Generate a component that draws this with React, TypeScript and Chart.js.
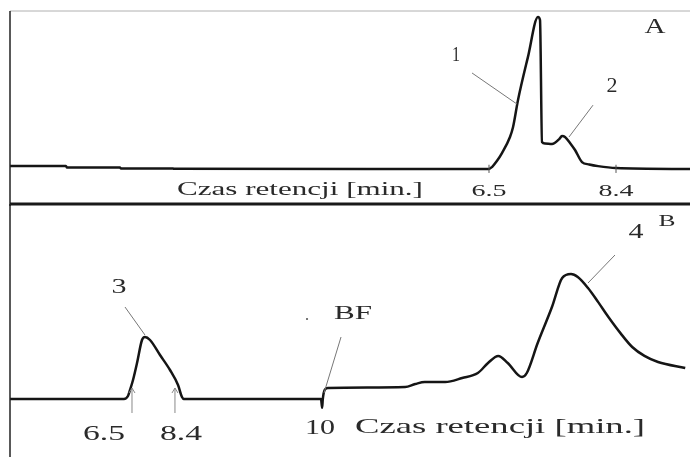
import React, { useEffect, useRef } from "react";
import { Chart, registerables } from "chart.js";

Chart.register(...registerables);

// ---------- Panel A (retention time, min; signal, % of peak 1) ----------
const aTime = [-0.666, 0.171, 0.186, 0.979, 0.994, 1.772, 1.787, 6.5, 6.545, 6.62, 6.694, 6.814, 6.86, 6.934, 7.083, 7.233, 7.263, 7.293, 7.338, 7.443, 7.55, 7.592, 7.637, 7.72, 7.787, 7.891, 8.0, 8.131, 8.4, 9.507];
const aSignal = [1.8, 1.8, 0.8, 0.8, 0.2, 0.2, -0.1, -0.2, 1.1, 5.2, 10.3, 20.9, 27.5, 45.3, 73.7, 100, 98, 17.6, 16.6, 16.3, 19.5, 21.5, 20.9, 16.5, 12.3, 4.4, 2.8, 1.7, 0.4, -0.2];
const aTicks = [6.5, 8.4];
const aTickLabels = ["6.5", "8.4"];
const aPeakLabels = ["1", "2"];
const aPeakLabelPos = [[6.006, 74.3], [8.34, 53.9]];
const aLeaderFrom = [[6.246, 63.1], [8.056, 41.9]];
const aLeaderTo = [[6.919, 42.6], [7.697, 20.9]];
const aPanelLabel = "A";
const axisTitle = "Czas retencji [min.]";

// ---------- Panel B (relative scan position; signal, % of peak 4) ----------
const bPos = [0, 16.76, 17.35, 17.65, 18.09, 18.68, 19.41, 19.85, 20.59, 22.06, 23.53, 24.71, 25.29, 25.59, 45.74, 45.9, 46.0, 46.3, 46.76, 58.1, 59.6, 61.0, 64.0, 66.5, 68.8, 70.3, 71.8, 73.2, 75.3, 76.0, 77.6, 79.7, 81.2, 82.5, 83.5, 85.0, 86.5, 88.0, 89.8, 91.5, 93.3, 95.3, 99.3];
const bSignal = [0, 0, 2.4, 7.2, 15.2, 28.8, 47.2, 49.6, 47.2, 35.2, 23.2, 11.2, 1.6, 0, 0, -7, 0, 7.5, 8.8, 9.6, 12, 13.6, 13.6, 16.8, 20.8, 28.8, 34.4, 28.8, 17.6, 20.8, 44.8, 73.6, 96.8, 100, 97.6, 88.8, 77.5, 65.6, 52.5, 41.6, 34.5, 29.6, 24.8];
const bArrowPos = [17.94, 24.26];
const bTickLabels = ["6.5", "8.4", "10"];
const bTickLabelPos = [[13.82, -28], [25.15, -28], [45.59, -23.2]];
const bPeakLabels = ["3", "4", "BF"];
const bPeakLabelPos = [[16.03, 88.8], [92.06, 132.8], [50.44, 68]];
const bLeaderFrom = [[16.91, 73.6], [88.97, 115.2], [48.68, 49.6]];
const bLeaderTo = [[19.85, 51.2], [85.0, 92.8], [46.18, 4.8]];
const bPanelLabel = "B";

const FONT = '"Liberation Serif", "DejaVu Serif", "Times New Roman", serif';
const TEXT = "#2a2a2a";

function drawText(ctx: CanvasRenderingContext2D, text: string, x: number, y: number, size: number, width: number) {
  ctx.save();
  ctx.font = `${size}px ${FONT}`;
  const w = ctx.measureText(text).width || 1;
  ctx.translate(x, y);
  ctx.scale(width / w, 1);
  ctx.textAlign = "center";
  ctx.textBaseline = "middle";
  ctx.fillStyle = TEXT;
  ctx.fillText(text, 0, 0);
  ctx.restore();
}

function line(ctx: CanvasRenderingContext2D, x1: number, y1: number, x2: number, y2: number, color: string, w: number) {
  ctx.save();
  ctx.strokeStyle = color;
  ctx.lineWidth = w;
  ctx.beginPath();
  ctx.moveTo(x1, y1);
  ctx.lineTo(x2, y2);
  ctx.stroke();
  ctx.restore();
}

const panelAPlugin = {
  id: "panelA",
  afterDraw(chart: any) {
    const { ctx, chartArea: ca, scales } = chart;
    const xs = scales.x, ys = scales.y;
    const px = (v: number) => xs.getPixelForValue(v);
    const py = (v: number) => ys.getPixelForValue(v);
    line(ctx, ca.left, ca.top, ca.right, ca.top, "#b0b0b0", 1);
    line(ctx, ca.left, ca.top, ca.left, ca.bottom + 2, "#222", 1.5);
    line(ctx, ca.left, ca.bottom, ca.right, ca.bottom, "#1a1a1a", 3);
    aTicks.forEach((t, i) => {
      line(ctx, px(t), py(2.6), px(t), py(-2.8), "#555", 1);
      drawText(ctx, aTickLabels[i], px(t), py(-14.9), 16, 35);
    });
    drawText(ctx, axisTitle, px(3.672), py(-14.3), 19, 246);
    const labelW = [8, 11];
    aPeakLabels.forEach((s, i) => {
      line(ctx, px(aLeaderFrom[i][0]), py(aLeaderFrom[i][1]), px(aLeaderTo[i][0]), py(aLeaderTo[i][1]), "#777", 1);
      drawText(ctx, s, px(aPeakLabelPos[i][0]), py(aPeakLabelPos[i][1]), 20, labelW[i]);
    });
    drawText(ctx, aPanelLabel, px(8.984), py(93), 20, 21);
  },
};

const panelBPlugin = {
  id: "panelB",
  afterDraw(chart: any) {
    const { ctx, chartArea: ca, scales } = chart;
    const xs = scales.x, ys = scales.y;
    const px = (v: number) => xs.getPixelForValue(v);
    const py = (v: number) => ys.getPixelForValue(v);
    line(ctx, ca.left, ca.top, ca.left, ca.bottom, "#222", 1.5);
    bArrowPos.forEach((u) => {
      const x = px(u);
      const y0 = py(-11.2), y1 = py(8.8);
      line(ctx, x, y0, x, y1, "#888", 1);
      line(ctx, x - 3, y1 + 5, x, y1, "#888", 1);
      line(ctx, x + 3, y1 + 5, x, y1, "#888", 1);
    });
    const tickW = [42, 42, 30];
    const tickS = [22, 22, 21];
    bTickLabels.forEach((s, i) => {
      drawText(ctx, s, px(bTickLabelPos[i][0]), py(bTickLabelPos[i][1]), tickS[i], tickW[i]);
    });
    drawText(ctx, axisTitle, px(72.06), py(-22.4), 22, 290);
    const labelW = [15, 15, 38];
    const labelS = [20, 20, 18];
    bPeakLabels.forEach((s, i) => {
      line(ctx, px(bLeaderFrom[i][0]), py(bLeaderFrom[i][1]), px(bLeaderTo[i][0]), py(bLeaderTo[i][1]), "#777", 1);
      drawText(ctx, s, px(bPeakLabelPos[i][0]), py(bPeakLabelPos[i][1]), labelS[i], labelW[i]);
    });
    ctx.save();
    ctx.fillStyle = "#777";
    ctx.fillRect(px(43.68) - 1, py(64) - 1, 2, 2);
    ctx.restore();
    drawText(ctx, bPanelLabel, px(96.62), py(141.6), 16, 17);
  },
};

function makeChart(canvas: HTMLCanvasElement, xs: number[], ys: number[], xMin: number, xMax: number, yMin: number, yMax: number, padding: any, plugin: any) {
  return new Chart(canvas, {
    type: "line",
    data: {
      datasets: [
        {
          data: xs.map((x, i) => ({ x, y: ys[i] })),
          borderColor: "#151515",
          borderWidth: 2.5,
          pointRadius: 0,
          cubicInterpolationMode: "monotone",
          borderJoinStyle: "round",
          fill: false,
        },
      ],
    },
    options: {
      animation: false,
      responsive: false,
      layout: { padding },
      plugins: { legend: { display: false }, tooltip: { enabled: false } },
      scales: {
        x: { type: "linear", min: xMin, max: xMax, display: false },
        y: { type: "linear", min: yMin, max: yMax, display: false },
      },
    },
    plugins: [plugin],
  } as any);
}

export default function App() {
  const refA = useRef<HTMLCanvasElement>(null);
  const refB = useRef<HTMLCanvasElement>(null);
  useEffect(() => {
    const cA = makeChart(refA.current!, aTime, aSignal, -0.666, 9.507, -23.27, 103.96, { left: 10, top: 11, right: 0, bottom: 2 }, panelAPlugin);
    const cB = makeChart(refB.current!, bPos, bSignal, 0, 100, -46.4, 156, { left: 10, top: 0, right: 0, bottom: 0 }, panelBPlugin);
    return () => {
      cA.destroy();
      cB.destroy();
    };
  }, []);
  return (
    <div style={{ position: "absolute", left: 0, top: 0, width: 690, height: 457, background: "#fff" }}>
      <canvas ref={refA} width={690} height={206} style={{ position: "absolute", left: 0, top: 0 }} />
      <canvas ref={refB} width={690} height={253} style={{ position: "absolute", left: 0, top: 204 }} />
    </div>
  );
}
